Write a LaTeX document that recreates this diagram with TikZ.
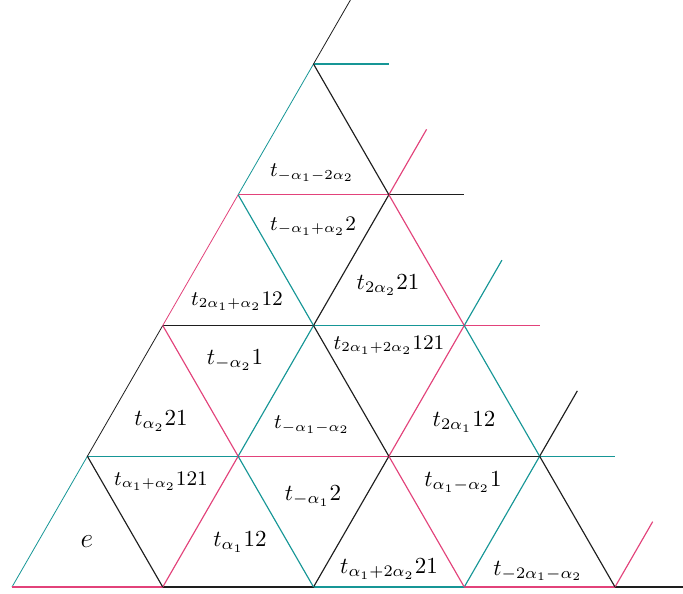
\documentclass[tikz,border=0pt]{standalone}
\usepackage{amsmath}
\usetikzlibrary{calc}
\definecolor{pk}{RGB}{226,66,122}
\definecolor{tl}{RGB}{22,150,150}
\definecolor{bk}{RGB}{30,30,30}
\tikzset{
  seg/.style={line width=0.5pt},
  outer/.style={line width=0.5pt},
  edge/.style={line width=0.35pt},
  lab/.style={inner sep=0pt, font=\normalsize},
  slab/.style={inner sep=0pt, font=\small},
}
\begin{document}
\begin{tikzpicture}[x=0.435pt,y=-0.435pt]
\useasboundingbox (0,0) rectangle (683,593);
% lattice vertices
\foreach \j in {0,...,4}{
  \pgfmathtruncatemacro{\imax}{4-\j}
  \foreach \i in {0,...,\imax}{
    \coordinate (v\i\j) at ({12+150.75*\i+75.375*\j},{587-130.75*\j});
  }
}
% free ends of the right-hand extensions
\foreach \j in {0,...,4}{
  \pgfmathtruncatemacro{\ii}{4-\j}
  \coordinate (h\j) at ($(v\ii\j)+(75.375,0)$);
  \coordinate (s\j) at ($(v\ii\j)+(37.69,-65.375)$);
}
\coordinate (h0) at (700,587);
% outer left edge
\draw[edge,tl] (v00) -- (v01);
\draw[edge,bk] (v01) -- (v02);
\draw[edge,pk] (v02) -- (v03);
\draw[edge,tl] (v03) -- (v04);
\draw[edge,bk] (v04) -- (s4);
% bottom edge
\draw[outer,pk] (v00) -- (v10);
\draw[outer,bk] (v10) -- (v20);
\draw[outer,tl] (v20) -- (v30);
\draw[outer,pk] (v30) -- (v40);
\draw[outer,bk] (v40) -- (h0);
% horizontal rows
\draw[seg,tl] (v01) -- (v11);
\draw[seg,pk] (v11) -- (v21);
\draw[seg,bk] (v21) -- (v31);
\draw[outer,tl] (v31) -- (h1);
\draw[seg,bk] (v02) -- (v12);
\draw[seg,tl] (v12) -- (v22);
\draw[outer,pk] (v22) -- (h2);
\draw[seg,pk] (v03) -- (v13);
\draw[outer,bk] (v13) -- (h3);
\draw[outer,tl] (v04) -- (h4);
% up-right lines
\draw[seg,pk] (v10) -- (v11);
\draw[seg,tl] (v11) -- (v12);
\draw[seg,bk] (v12) -- (v13);
\draw[outer,pk] (v13) -- (s3);
\draw[seg,bk] (v20) -- (v21);
\draw[seg,pk] (v21) -- (v22);
\draw[outer,tl] (v22) -- (s2);
\draw[seg,tl] (v30) -- (v31);
\draw[outer,bk] (v31) -- (s1);
\draw[outer,pk] (v40) -- (s0);
% down-right lines
\draw[seg,bk] (v04) -- (v13);
\draw[seg,pk] (v13) -- (v22);
\draw[seg,tl] (v22) -- (v31);
\draw[seg,bk] (v31) -- (v40);
\draw[seg,tl] (v03) -- (v12);
\draw[seg,bk] (v12) -- (v21);
\draw[seg,pk] (v21) -- (v30);
\draw[seg,pk] (v02) -- (v11);
\draw[seg,tl] (v11) -- (v20);
\draw[seg,bk] (v01) -- (v10);
% labels
\node[inner sep=0pt, font=\fontsize{13}{15}\selectfont] (l1) at (87,542) {$e$};
\node[lab]  (l2)  at (240,542) {$t_{\alpha_1}12$};
\node[slab] (l3)  at (161,481) {$t_{\alpha_1+\alpha_2}121$};
\node[lab]  (l4)  at (313,496) {$t_{-\alpha_1}2$};
\node[lab]  (l5)  at (389,569) {$t_{\alpha_1+2\alpha_2}21$};
\node[lab]  (l6)  at (463,482) {$t_{\alpha_1-\alpha_2}1$};
\node[lab]  (l7)  at (538,571) {$t_{-2\alpha_1-\alpha_2}$};
\node[lab]  (l8)  at (161,421) {$t_{\alpha_2}21$};
\node[lab]  (l9)  at (235,360) {$t_{-\alpha_2}1$};
\node[slab] (l10) at (312,425) {$t_{-\alpha_1-\alpha_2}$};
\node[slab] (l11) at (389,345) {$t_{2\alpha_1+2\alpha_2}121$};
\node[lab]  (l12) at (464,422) {$t_{2\alpha_1}12$};
\node[lab]  (l13) at (388,285) {$t_{2\alpha_2}21$};
\node[slab] (l14) at (237,301) {$t_{2\alpha_1+\alpha_2}12$};
\node[slab] (l15) at (313,226) {$t_{-\alpha_1+\alpha_2}2$};
\node[slab] (l16) at (312,173) {$t_{-\alpha_1-2\alpha_2}$};
\end{tikzpicture}
\end{document}
